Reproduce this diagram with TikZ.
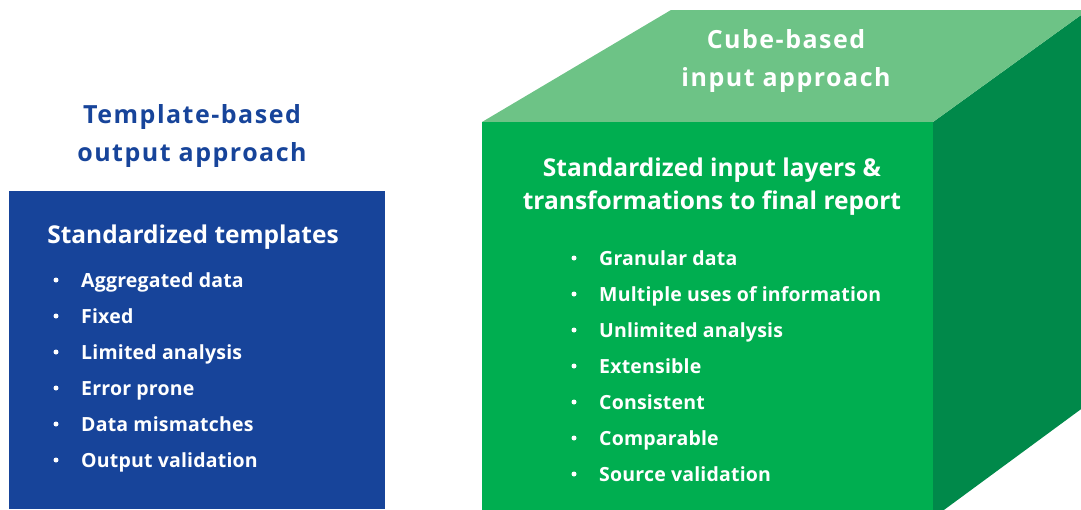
\documentclass[tikz,border=0pt]{standalone}
\usepackage{fontspec}
\setmainfont{Open Sans}
\usetikzlibrary{positioning}

\definecolor{tplblue}{HTML}{17449A}
\definecolor{cubefront}{HTML}{00AE50}
\definecolor{cubetop}{HTML}{6DC386}
\definecolor{cubeside}{HTML}{00894A}

\begin{document}
\begin{tikzpicture}[x=1pt, y=-1pt]
        \tikzstyle{every node} = [inner sep=0pt, text=white]
        \tikzstyle{title} = [font=\fontsize{25}{38}\selectfont\bfseries\addfontfeatures{LetterSpace=6}, align=center]
        \tikzstyle{head}  = [font=\fontsize{24.5}{33}\selectfont\bfseries, align=center]
        \tikzstyle{item}  = [font=\fontsize{19.5}{20}\selectfont\bfseries\addfontfeatures{LetterSpace=1}, anchor=base west]
        \tikzstyle{dot}   = [circle, fill=white, minimum size=5pt]

        % columns and first bullet row
        \def\tpldot{56}
        \def\tplx{81}
        \def\tplrow{244}
        \def\cubedot{574}
        \def\cubex{599}
        \def\cuberow{222}

        \useasboundingbox (0,0) rectangle (1081,509);
        \clip (0,0) rectangle (1081,509);

        % template block
        \fill[tplblue] (9,191) rectangle (385,509);
        \node[title, text=tplblue] (tpltitle) at (192,136) {Template-based\\output approach};
        \node[head] (tplhead) at (193,237) {Standardized templates};

        \foreach[count=\c] \txt in {Aggregated data, Fixed, Limited analysis, Error prone,
                Data mismatches, Output validation} {
            \node[dot] (tpldot\c) at (\tpldot,{\tplrow+36*\c}) {};
            \node[item] (tplitem\c) at (\tplx,{\tplrow+36*\c+7}) {\txt};
        }

        % cube
        \fill[cubeside]  (933,122) -- (1088,10) -- (1088,404) -- (933,518) -- cycle;
        \fill[cubetop]   (482,122) -- (671,10) -- (1088,10) -- (933,122) -- cycle;
        \fill[cubefront] (482,122) rectangle (933,520);

        \node[title] (cubetitle) at (786,61) {Cube-based\\input approach};
        \node[head] (cubehead) at (712,187) {Standardized input layers \&\\transformations to final report};

        \foreach[count=\c] \txt in {Granular data, Multiple uses of information, Unlimited analysis,
                Extensible, Consistent, Comparable, Source validation} {
            \node[dot] (cubedot\c) at (\cubedot,{\cuberow+36*\c}) {};
            \node[item] (cubeitem\c) at (\cubex,{\cuberow+36*\c+7}) {\txt};
        }
    \end{tikzpicture}
\end{document}
